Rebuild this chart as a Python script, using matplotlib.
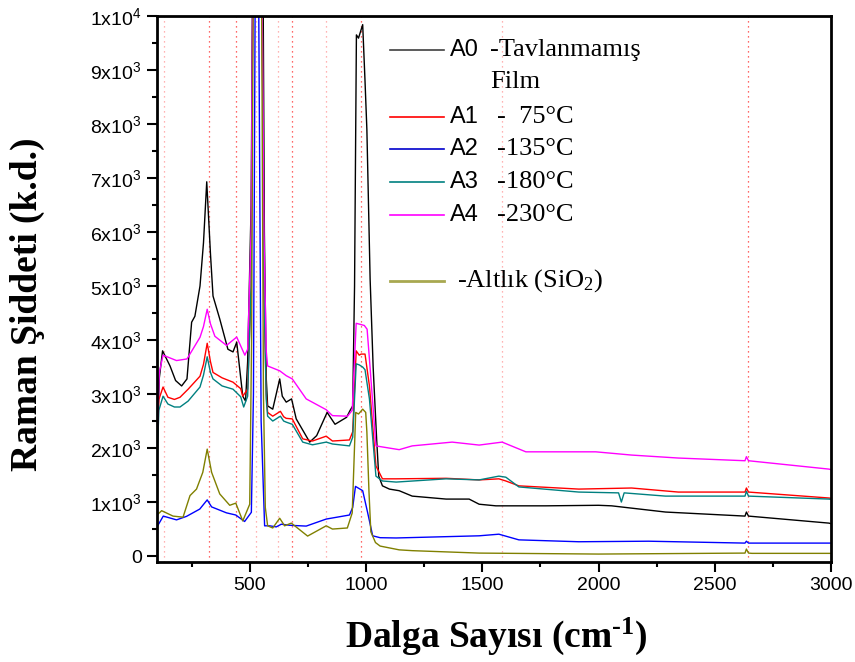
import matplotlib
matplotlib.use('Agg')
import matplotlib.pyplot as plt
from matplotlib.lines import Line2D
from matplotlib.ticker import MultipleLocator, FuncFormatter

plt.rcParams['font.family'] = ['Liberation Sans', 'DejaVu Sans']
plt.rcParams['mathtext.default'] = 'regular'

# Raman spectra, wave number (cm-1) vs intensity (a.u.)
a0_x = [100, 110, 124, 156, 180, 206, 229, 249, 263, 285, 300, 314, 330, 341, 370, 405, 427, 443, 469, 481,
        490, 505, 512, 530, 556, 562, 570, 576, 598, 628, 639, 656, 679, 699, 757, 787, 832, 866, 916, 930,
        942, 950, 958, 967, 985, 995, 1003, 1017, 1030, 1045, 1054, 1070, 1100, 1142, 1198, 1344, 1443,
        1486, 1558, 1773, 2000, 2056, 2288, 2630, 2636, 2645, 2991, 3000]
a0_y = [2000, 3300, 3800, 3520, 3250, 3150, 3280, 4330, 4440, 5000, 5800, 6930, 5600, 4815, 4390, 3830, 3780, 3960, 2960, 2870,
        3600, 6500, 11000, 40000, 11000, 6000, 3300, 2780, 2720, 3280, 2960, 2850, 2910, 2540, 2110, 2230, 2660, 2440, 2570, 2690,
        2780, 5000, 9650, 9590, 9840, 8800, 7900, 5130, 3500, 2170, 1480, 1300, 1240, 1210, 1110, 1055, 1055,
        960, 930, 930, 940, 930, 815, 740, 815, 740, 610, 600]

a1_x = [100, 108, 126, 147, 175, 199, 234, 285, 300, 316, 330, 341, 380, 427, 460, 469, 490, 505, 512, 530,
        552, 560, 570, 576, 598, 631, 645, 656, 682, 727, 769, 828, 855, 928, 942, 957, 970, 978, 995, 1014,
        1042, 1070, 1129, 1344, 1486, 1571, 1601, 1657, 1915, 2142, 2343, 2630, 2636, 2645, 2991, 3000]
a1_y = [2000, 2900, 3130, 2940, 2900, 2940, 3090, 3330, 3550, 3940, 3600, 3400, 3300, 3220, 3100, 2960, 3090, 5000, 10500, 40000,
        10500, 5000, 3000, 2660, 2590, 2680, 2580, 2550, 2540, 2170, 2130, 2220, 2130, 2150, 2300, 3800, 3720, 3740, 3740, 3150,
        1670, 1430, 1430, 1440, 1410, 1430, 1390, 1300, 1240, 1260, 1185, 1185, 1260, 1185, 1075, 1070]

a2_x = [100, 127, 184, 227, 284, 316, 335, 399, 439, 477, 506, 515, 522, 530, 538, 548, 563, 585, 613, 635,
        670, 742, 828, 928, 942, 954, 985, 1006, 1028, 1060, 1129, 1486, 1571, 1657, 1915, 2215, 2630, 2636,
        2645, 3000]
a2_y = [540, 740, 670, 735, 870, 1040, 910, 800, 760, 640, 810, 3000, 10000, 30000, 10000, 2500, 560, 560, 540, 590,
        570, 555, 685, 760, 900, 1290, 1210, 810, 375, 340, 335, 375, 405, 300, 265, 275, 240, 275,
        240, 240]

a3_x = [100, 108, 126, 147, 175, 199, 234, 285, 300, 316, 330, 341, 380, 427, 460, 473, 490, 505, 512, 530,
        552, 560, 570, 576, 598, 631, 645, 656, 682, 727, 769, 828, 855, 928, 942, 957, 970, 985, 995, 1014,
        1042, 1070, 1129, 1344, 1486, 1571, 1601, 1657, 1915, 2086, 2098, 2110, 2288, 2630, 2636, 2645, 2991,
        3000]
a3_y = [1700, 2700, 2960, 2815, 2760, 2760, 2870, 3130, 3350, 3690, 3400, 3280, 3150, 3090, 2950, 2760, 2960, 5000, 10500, 40000,
        10500, 5000, 2900, 2590, 2500, 2590, 2500, 2480, 2440, 2110, 2060, 2110, 2075, 2040, 2200, 3560, 3540, 3500, 3450, 2910,
        1480, 1390, 1370, 1430, 1410, 1480, 1460, 1280, 1185, 1170, 1000, 1170, 1110, 1110, 1200, 1110, 1055,
        1050]

a4_x = [100, 110, 126, 184, 229, 285, 300, 316, 330, 349, 399, 443, 478, 490, 505, 512, 530, 552, 560, 570,
        576, 628, 656, 682, 742, 828, 855, 920, 940, 957, 992, 1004, 1014, 1042, 1070, 1142, 1198, 1370,
        1486, 1585, 1687, 1988, 2142, 2343, 2630, 2636, 2645, 2991, 3000]
a4_y = [2150, 3400, 3720, 3620, 3650, 4050, 4250, 4570, 4300, 4070, 3900, 4055, 3720, 3830, 6000, 10500, 40000, 10500, 6000, 3800,
        3520, 3430, 3340, 3280, 2910, 2710, 2600, 2590, 2700, 4310, 4270, 4200, 3650, 2040, 2020, 1970, 2040, 2110,
        2055, 2110, 1930, 1930, 1870, 1815, 1765, 1840, 1765, 1610, 1600]

sub_x = [100, 120, 169, 212, 242, 270, 297, 316, 335, 370, 413, 439, 469, 499, 507, 514, 530, 550, 558, 566,
         576, 598, 628, 649, 678, 748, 828, 855, 919, 940, 955, 967, 985, 998, 1003, 1012, 1020, 1040, 1060,
         1142, 1198, 1486, 2000, 2630, 2636, 2645, 2660, 2991, 3000]
sub_y = [760, 840, 740, 720, 1120, 1240, 1550, 1980, 1550, 1150, 940, 980, 650, 960, 4000, 10500, 35000, 10500, 3000, 900,
         560, 520, 700, 560, 610, 370, 560, 500, 520, 800, 2660, 2630, 2720, 2660, 2300, 1200, 450, 250, 185,
         115, 100, 55, 37, 55, 130, 55, 50, 50, 50]

# reference band positions
bands = [132, 322, 441, 528, 622, 683, 829, 979, 1583, 2643]
band_alpha = [0.45, 0.9, 0.9, 0.45, 0.45, 0.9, 0.45, 0.9, 0.45, 0.9]

series = [
    (a0_x, a0_y, '#000000'),
    (a1_x, a1_y, '#ff0000'),
    (a2_x, a2_y, '#0000ff'),
    (a3_x, a3_y, '#008080'),
    (a4_x, a4_y, '#ff00ff'),
    (sub_x, sub_y, '#808000'),
]

fig = plt.figure(figsize=(8.55, 6.62), dpi=100)
ax = fig.add_axes([157 / 855, 1 - 562 / 662, (831 - 157) / 855, (562 - 16) / 662])

for b, a in zip(bands, band_alpha):
    ax.axvline(b, color='#ff2020', ls=(0, (1, 3)), lw=0.9, alpha=a, zorder=1)

for xs, ys, c in series:
    ax.plot(xs, ys, color=c, lw=1.0, zorder=2)

ax.set_xlim(100, 3000)
ax.set_ylim(-110, 10000)
ax.xaxis.set_major_locator(MultipleLocator(500))
ax.xaxis.set_minor_locator(MultipleLocator(250))
ax.yaxis.set_major_locator(MultipleLocator(1000))
ax.yaxis.set_minor_locator(MultipleLocator(500))


def ylab(v, pos):
    if v == 0:
        return '0'
    if v >= 10000:
        return '1x10$^4$'
    return '%dx10$^3$' % round(v / 1000)


ax.yaxis.set_major_formatter(FuncFormatter(ylab))
ax.tick_params(which='major', direction='out', length=7, width=1.5, labelsize=14, pad=4)
ax.tick_params(which='minor', direction='out', length=3.5, width=1.5)
for s in ax.spines.values():
    s.set_linewidth(2)

serif = ['Liberation Serif', 'DejaVu Serif']
fig.text(27 / 855, 1 - 304 / 662, 'Raman Şiddeti (k.d.)', rotation=90, family=serif,
         weight='bold', fontsize=27, ha='center', va='center')
fig.text(496 / 855, 1 - 636 / 662, 'Dalga Sayısı (cm$^{\u2010 1}$)', family=serif,
         weight='bold', fontsize=27, ha='center', va='center')

# legend, drawn by hand
legend = [
    (50, '#404040', 'A0', '-Tavlanmamış', 490),
    (117, '#ff0000', 'A1', '-  75°C', 497),
    (149, '#0000cc', 'A2', '-135°C', 497),
    (182, '#008080', 'A3', '-180°C', 497),
    (215, '#ff00ff', 'A4', '-230°C', 497),
]
for y, c, name, desc, tx in legend:
    fig.add_artist(Line2D([390 / 855, 444 / 855], [1 - y / 662] * 2, color=c, lw=1.2))
    fig.text(450 / 855, 1 - y / 662, name, fontsize=17, ha='left', va='center')
    fig.text(tx / 855, 1 - y / 662, desc, family=serif, fontsize=19, ha='left', va='center')
fig.text(490 / 855, 1 - 82 / 662, 'Film', family=serif, fontsize=19, ha='left', va='center')
fig.add_artist(Line2D([390 / 855, 444 / 855], [1 - 281 / 662] * 2, color='#a8a850', lw=2))
fig.text(457 / 855, 1 - 281 / 662, '-Altlık (SiO$_2$)', family=serif, fontsize=19, ha='left', va='center')

fig.savefig('out.png', dpi=100)
